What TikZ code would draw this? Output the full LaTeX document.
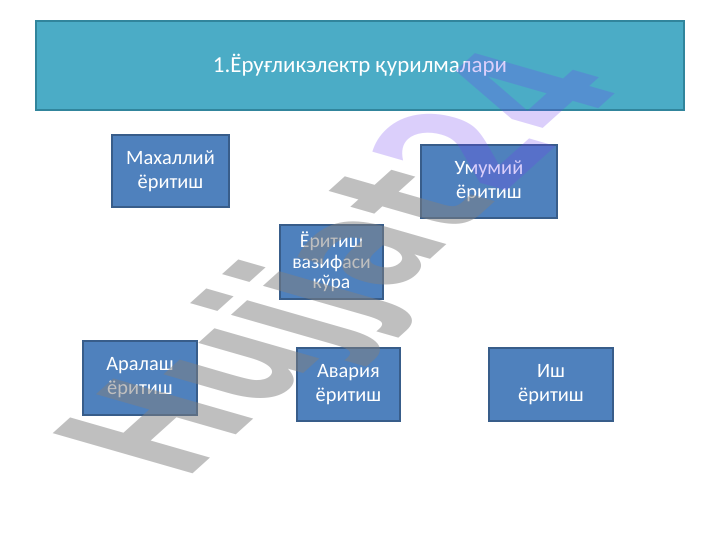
\documentclass[tikz,border=0pt]{standalone}
\usepackage{fontspec}
\setmainfont{Carlito}
\newfontfamily\wmfont{DejaVu Sans}
\definecolor{boxblue}{HTML}{4F81BD}
\definecolor{boxline}{HTML}{385D8A}
\definecolor{headfill}{HTML}{4BACC6}
\definecolor{headline}{HTML}{31859C}
\definecolor{wmgray}{HTML}{808080}
\definecolor{wmviolet}{HTML}{7040F0}
\begin{document}
\begin{tikzpicture}[
    box/.style={draw=boxline, fill=boxblue, line width=0.9pt, text=white,
      align=center, inner sep=2pt, font=\fontsize{14.5}{17}\selectfont},
    wmtext/.style={transform shape, inner sep=0pt,
      font=\wmfont\bfseries\fontsize{100}{100}\selectfont}
  ]
  \useasboundingbox (0,0) rectangle (18,13.5);
  \node [box, fill=headfill, draw=headline, minimum width=16.2cm, minimum height=2.225cm,
    font=\fontsize{16.3}{19}\selectfont] (title) at (9, 11.8625) {\raisebox{-5pt}{1.Ёруғликэлектр қурилмалари}};
  \node [box, minimum width=2.925cm, minimum height=1.8cm] (mahalliy) at (4.2625, 9.225) {Махаллий\\ёритиш};
  \node [box, minimum width=3.4cm, minimum height=1.825cm] (umumiy) at (12.225, 8.9625) {Умумий\\ёритиш};
  \node [box, minimum width=2.575cm, minimum height=1.85cm,
    font=\fontsize{14}{14.5}\selectfont] (vazifa) at (8.2875, 6.95) {Ёритиш\\вазифаси\\кўра};
  \node [box, minimum width=2.85cm, minimum height=1.85cm] (aralash) at (3.5, 4.05) {Аралаш\\ёритиш};
  \node [box, minimum width=2.575cm, minimum height=1.825cm] (avariya) at (8.7125, 3.8875) {Авария\\ёритиш};
  \node [box, minimum width=3.1cm, minimum height=1.825cm] (ish) at (13.775, 3.8875) {Иш\\ёритиш};
  % watermark
  \begin{scope}[shift={(4.6,1.45)}, cm={0.661,0.596,-1.365,0.392,(0,0)}]
    \node [wmtext, anchor=base west, text=wmgray, text opacity=0.5] (wmleft) at (0,0) {Hujjat};
    \node [wmtext, anchor=base west, text=wmviolet, text opacity=0.25] (wmright) at (wmleft.base east) {24};
  \end{scope}
\end{tikzpicture}
\end{document}
